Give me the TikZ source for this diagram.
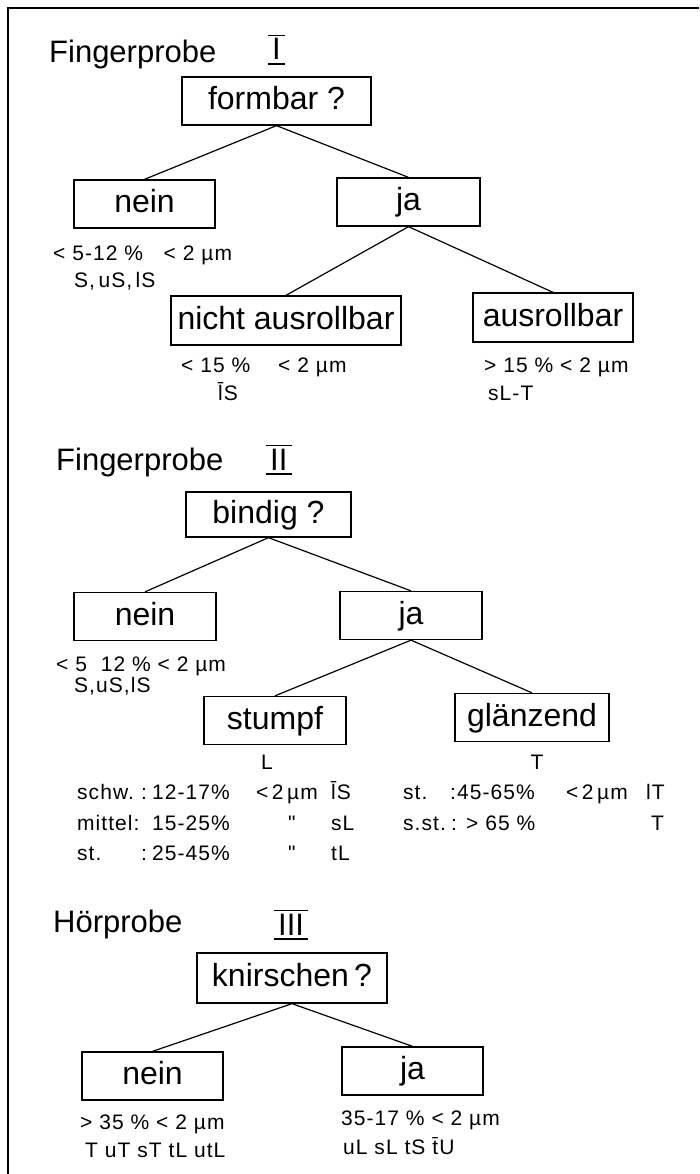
\documentclass[tikz,border=0pt]{standalone}
\usepackage{fontspec}
\setmainfont{Liberation Sans}

\begin{document}
\begin{tikzpicture}[x=1pt,y=-1pt,
  box/.style={draw,line width=1.3pt,minimum height=48pt,inner xsep=3pt,inner ysep=0pt,
    text height=24pt,text depth=7pt,font=\fontsize{32}{37}\selectfont},
  head/.style={anchor=base west,inner sep=0pt,font=\fontsize{31}{36}\selectfont},
  note/.style={anchor=base west,inner sep=0pt,
    font=\fontsize{21}{25}\selectfont\addfontfeatures{LetterSpace=5}},
  mid/.style={anchor=base,inner sep=0pt,font=\fontsize{21}{25}\selectfont},
  link/.style={line width=1.2pt},
  bar/.style={line width=1.6pt}]
\useasboundingbox (0,0) rectangle (699,1174);
\draw[line width=2.5pt] (8,1174) -- (8,8) -- (699,8);

% Fingerprobe I
\node[head] (h1) at (49,63) {Fingerprobe};
\node[head] (r1) at (272,60) {I};
\node[box,minimum width=189pt] (q1) at (276.5,101) {formbar ?};
\node[box,minimum width=141pt] (n1) at (144.5,204) {nein};
\node[box,minimum width=143pt] (j1) at (408.5,202) {ja};
\node[box,minimum width=230pt,minimum height=49pt] (na) at (286,320.5) {nicht ausrollbar};
\node[box,minimum width=160pt,minimum height=49pt] (au) at (553,317.5) {ausrollbar};
\draw[link] (q1.south) -- (n1.north);
\draw[link] (q1.south) -- (j1.north);
\draw[link] (j1.south) -- (na.north);
\draw[link] (j1.south) -- (au.north);
\node[note] (t1) at (53,261) {< 5-12 \%\ \ \ < 2 µm};
\node[note] (t2) at (74,287) {S,\,uS,\,lS};
\node[note] (t3) at (181,372) {< 15 \%\quad\ < 2 µm};
\node[note] (t4) at (218,400) {\={l}S};
\node[note] (t5) at (484,372) {> 15 \% < 2 µm};
\node[note] (t6) at (488,400) {sL-T};

% Fingerprobe II
\node[head] (h2) at (56,470) {Fingerprobe};
\node[head] (r2) at (270,470) {II};
\node[box,minimum width=165pt,minimum height=45pt] (q2) at (268.5,514.5) {bindig ?};
\node[box,minimum width=142pt] (n2) at (145,616.5) {nein};
\node[box,minimum width=142pt] (j2) at (411,615.5) {ja};
\node[box,minimum width=142pt] (st) at (275,720.5) {stumpf};
\node[box,minimum width=154pt] (gl) at (532,717.5) {glänzend};
\draw[link] (q2.south) -- (n2.north);
\draw[link] (q2.south) -- (j2.north);
\draw[link] (j2.south) -- (st.north);
\draw[link] (j2.south) -- (gl.north);
\node[note] (t7) at (56,671) {< 5\ \ 12 \%\ < 2 µm};
\node[note] (t8) at (74,692) {S,uS,lS};
\node[mid] (L) at (267,769) {L};
\node[mid] (T) at (537,769) {T};
% Tabelle stumpf
\node[note] (a1) at (77,799) {schw.};
\node[note] (a2) at (141,799) {:};
\node[note] (a3) at (152,799) {12-17\%};
\node[note] (a4) at (256,799) {<\,2\,µm};
\node[note] (a5) at (331,799) {\={l}S};
\node[note] (b1) at (77,830) {mittel:};
\node[note] (b3) at (152,830) {15-25\%};
\node[note] (b4) at (288,830) {\textquotedbl};
\node[note] (b5) at (331,830) {sL};
\node[note] (c1) at (77,860) {st.};
\node[note] (c2) at (141,860) {:};
\node[note] (c3) at (152,860) {25-45\%};
\node[note] (c4) at (288,860) {\textquotedbl};
\node[note] (c5) at (331,860) {tL};
% Tabelle glaenzend
\node[note] (d1) at (403,799) {st.};
\node[note] (d2) at (450,799) {:45-65\%};
\node[note] (d3) at (566,799) {<\,2\,µm};
\node[note] (d4) at (646,799) {lT};
\node[note] (e1) at (403,830) {s.st.};
\node[note] (e2) at (451,830) {: > 65 \%};
\node[note] (e3) at (651,830) {T};

% Hoerprobe III
\node[head] (h3) at (53,932) {Hörprobe};
\node[head] (r3) at (278,935) {III};
\node[box,minimum width=190pt,minimum height=50pt] (q3) at (292,978) {knirschen\,?};
\node[box,minimum width=141pt] (n3) at (152.5,1076) {nein};
\node[box,minimum width=141pt] (j3) at (412.5,1071) {ja};
\draw[link] (q3.south) -- (n3.north);
\draw[link] (q3.south) -- (j3.north);
\node[note] (t9) at (80,1129) {> 35 \% < 2 µm};
\node[note] (t10) at (85,1157) {T uT sT tL utL};
\node[note] (t11) at (341,1125) {35-17 \% < 2 µm};
\node[note] (t12) at (343,1154) {uL sL tS \={t}U};

\foreach \r in {r1,r2,r3} {
  \draw[bar] ([shift={(-4,-3)}]\r.north west) -- ([shift={(4,-3)}]\r.north east);
  \draw[bar] ([shift={(-4,4)}]\r.south west) -- ([shift={(4,4)}]\r.south east);
}
\end{tikzpicture}
\end{document}
